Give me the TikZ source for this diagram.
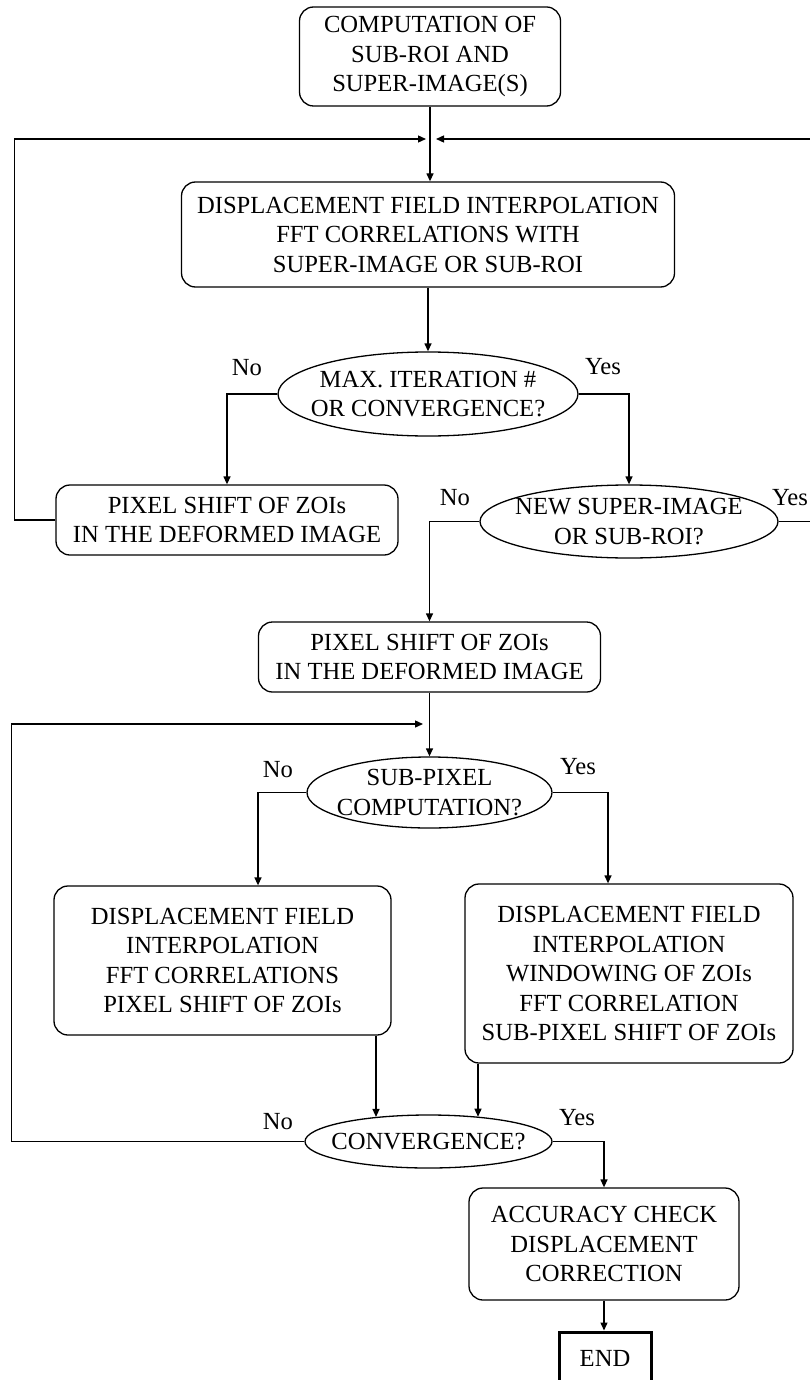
\documentclass[tikz,border=0pt]{standalone}
\usepackage{fontspec}
\setmainfont{Liberation Serif}
\usetikzlibrary{arrows.meta,shapes.geometric}
\begin{document}
\begin{tikzpicture}[x=1pt,y=-1pt,
  every node/.style={font=\fontsize{24.6}{29.5}\selectfont},
  ln/.style={line width=1.3pt},
  arr/.style={ln,-{Triangle[length=8pt,width=7pt]}},
  proc/.style={draw,ln,rounded corners=14pt,align=center,inner sep=0pt},
  dec/.style={draw,ln,ellipse,inner sep=0pt},
  txt/.style={align=center,inner sep=0pt},
]
\useasboundingbox (0,0) rectangle (810,1380);

% process boxes and decisions
\node[proc,minimum width=261pt,minimum height=99pt] (top) at (430,56.5) {COMPUTATION OF\\SUB-ROI AND\\SUPER-IMAGE(S)};
\node[proc,minimum width=493pt,minimum height=105pt] (disp) at (428,234.5) {DISPLACEMENT FIELD INTERPOLATION\\FFT CORRELATIONS WITH\\SUPER-IMAGE OR SUB-ROI};
\node[dec,minimum width=300pt,minimum height=84pt] (e1) at (428,394) {};
\node[txt] (e1t) at (e1) {MAX. ITERATION \#\\OR CONVERGENCE?};
\node[proc,minimum width=342pt,minimum height=70pt] (shiftA) at (227,520) {PIXEL SHIFT OF ZOIs\\IN THE DEFORMED IMAGE};
\node[dec,minimum width=298pt,minimum height=73pt] (e2) at (629,521.5) {};
\node[txt] (e2t) at (e2) {NEW SUPER-IMAGE\\OR SUB-ROI?};
\node[proc,minimum width=342pt,minimum height=70pt] (shiftB) at (429.5,657) {PIXEL SHIFT OF ZOIs\\IN THE DEFORMED IMAGE};
\node[dec,minimum width=245pt,minimum height=71pt] (e3) at (429.5,792.5) {};
\node[txt] (e3t) at (e3) {SUB-PIXEL\\COMPUTATION?};
\node[proc,minimum width=337pt,minimum height=149pt] (pix) at (222.5,960.5) {DISPLACEMENT FIELD\\INTERPOLATION\\FFT CORRELATIONS\\PIXEL SHIFT OF ZOIs};
\node[proc,minimum width=328pt,minimum height=179pt] (sub) at (629,973.5) {DISPLACEMENT FIELD\\INTERPOLATION\\WINDOWING OF ZOIs\\FFT CORRELATION\\SUB-PIXEL SHIFT OF ZOIs};
\node[dec,minimum width=247pt,minimum height=53pt] (e4) at (428.5,1141.5) {};
\node[txt] (e4t) at (e4) {CONVERGENCE?};
\node[proc,minimum width=270pt,minimum height=112pt] (acc) at (604,1244) {ACCURACY CHECK\\DISPLACEMENT\\CORRECTION};
\node[draw,line width=3pt,minimum width=92pt,minimum height=52pt,inner sep=0pt] (end) at (605,1358) {END};

% branch labels
\node (no1) at (247,368) {No};
\node (yes1) at (603,367) {Yes};
\node (no2) at (455,498) {No};
\node (yes2) at (790,498) {Yes};
\node (no3) at (278,770) {No};
\node (yes3) at (578,767) {Yes};
\node (no4) at (278,1122) {No};
\node (yes4) at (577,1118) {Yes};

% junction coordinates
\coordinate (jL) at (426,139);
\coordinate (jR) at (436,139);
\coordinate (j2) at (423,724);
\coordinate (p3) at ([xshift=35.5pt]pix.north);
\coordinate (p4) at ([xshift=-21pt]sub.north);
\coordinate (p5) at ([xshift=153.5pt]pix.south);
\coordinate (p6) at ([xshift=-151pt]sub.south);

% connectors
\draw[arr] (top.south) -- (top.south |- disp.north);
\draw[arr] (shiftA.west) -- ++(-41,0) |- (jL);
\draw[arr] (e2.east) -- ++(36,0) |- (jR);
\draw[arr] (disp.south) -- (e1.north);
\draw[arr] (e1.west) -| (shiftA.north);
\draw[arr] (e1.east) -| (e2.north);
\draw[arr] (e2.west) -| (shiftB.north);
\draw[arr] (shiftB.south) -- (e3.north);
\draw[arr] (e4.west) -- ++(-293,0) |- (j2);
\draw[arr] (e3.west) -| (p3);
\draw[arr] (e3.east) -| (p4);
\draw[arr] (p5) -- (p5 |- e4.155.43);
\draw[arr] (p6) -- (p6 |- e4.26.15);
\draw[arr] (e4.east) -| (acc.north);
\draw[arr] (acc.south) -- (acc.south |- end.north);
\end{tikzpicture}
\end{document}
